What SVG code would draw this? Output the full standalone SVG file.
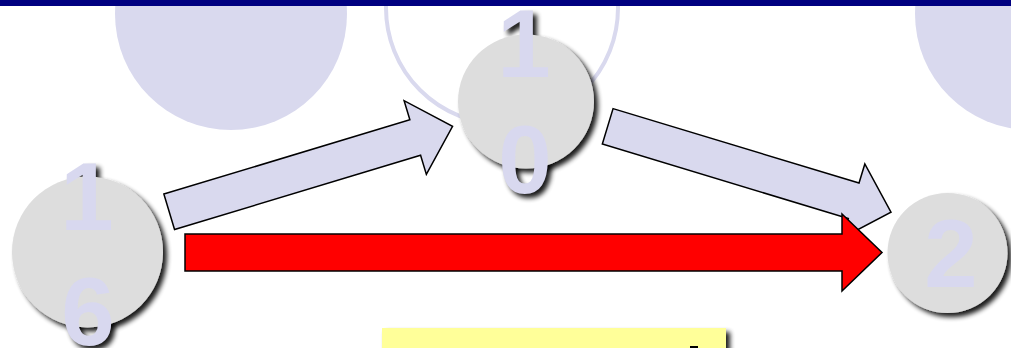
<svg xmlns="http://www.w3.org/2000/svg" width="1011" height="348" viewBox="0 0 1011 348">
<defs>
<filter id="sh" x="-30%" y="-30%" width="160%" height="160%">
<feGaussianBlur in="SourceAlpha" stdDeviation="2.5"/>
<feOffset dx="4" dy="4" result="b"/>
<feComponentTransfer in="b" result="c"><feFuncA type="linear" slope="0.9"/></feComponentTransfer>
<feMerge><feMergeNode in="c"/><feMergeNode in="SourceGraphic"/></feMerge>
</filter>
<filter id="so" x="-30%" y="-30%" width="160%" height="160%">
<feGaussianBlur in="SourceAlpha" stdDeviation="2.5"/>
<feOffset dx="4" dy="4" result="b"/>
<feComponentTransfer in="b"><feFuncA type="linear" slope="0.9"/></feComponentTransfer>
</filter>
<polygon id="arrowShape" points="0,-18.5 257,-18.5 257,-38.5 296,0 257,38.5 257,18.5 0,18.5"/>
</defs>
<style>
.bg{fill:#d9d9ee}
.ring{fill:none;stroke:#d9d9ee;stroke-width:4}
.node{fill:#dddddd;filter:url(#sh)}
.lbl{font-family:"Liberation Sans",Arial,sans-serif;font-weight:bold;font-size:96px;fill:#d8d8ef;text-anchor:middle}
.tsh{filter:url(#so)}
.arr{fill:#d9d9ee;stroke:#000;stroke-width:1.5;stroke-linejoin:miter}
.red{fill:#ff0000;stroke:#000;stroke-width:1.5}
</style>
<g id="background">
<circle class="bg" cx="231" cy="14" r="116"/>
<circle class="ring" cx="502" cy="8" r="116"/>
<circle class="bg" cx="1031" cy="14" r="116"/>
<rect x="0" y="0" width="1011" height="6" fill="#000080"/>
</g>
<g id="connectors">
<use href="#arrowShape" class="arr" transform="translate(169.2,211.8) rotate(-16.8)"/>
<use href="#arrowShape" class="arr" transform="translate(607.7,126.3) rotate(16.85)"/>
<polygon class="red" points="185,234 842,234 842,214 882,252.5 842,291 842,271 185,271"/>
</g>
<g id="node16">
<g class="lbl tsh"><text x="87" y="230">1</text><text x="88" y="345">6</text></g>
<circle class="node" cx="87.5" cy="252" r="75.5"/>
<g class="lbl"><text x="87" y="230">1</text><text x="88" y="345">6</text></g>
</g>
<g id="node10">
<g class="lbl tsh"><text x="524" y="77">1</text><text x="525" y="193">0</text></g>
<ellipse class="node" cx="526" cy="101.5" rx="68" ry="67"/>
<g class="lbl"><text x="524" y="77">1</text><text x="525" y="193">0</text></g>
</g>
<g id="node2">
<g class="lbl tsh"><text x="951" y="287">2</text></g>
<circle class="node" cx="947.5" cy="253" r="60"/>
<g class="lbl"><text x="951" y="287">2</text></g>
</g>
<g id="note">
<rect x="382" y="328" width="344" height="30" fill="#ffff99" filter="url(#sh)"/>
<rect x="690" y="346" width="8" height="3" fill="#000"/>
</g>
</svg>
